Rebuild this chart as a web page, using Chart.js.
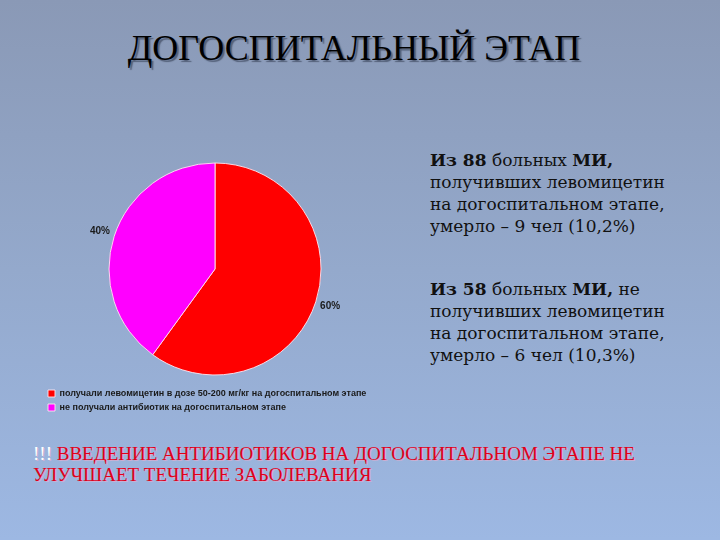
<!DOCTYPE html>
<html lang="ru">
<head>
<meta charset="utf-8">
<title>Догоспитальный этап</title>
<script src="https://cdn.jsdelivr.net/npm/chart.js@4/dist/chart.umd.min.js"></script>
<style>
    html, body {
        margin: 0;
        padding: 0;
    }
    body {
        width: 720px;
        height: 540px;
        position: relative;
        overflow: hidden;
        background: linear-gradient(to bottom, #8a99b6 0%, #94a9cc 50%, #9db8e3 100%);
        font-family: "Liberation Serif", serif;
    }
    .title {
        position: absolute;
        left: 0;
        width: 708px;
        top: 27px;
        text-align: center;
        font-size: 36px;
        color: #000;
        text-shadow: 2px 2px 1px rgba(40, 50, 70, 0.55);
    }
    .chart-box {
        position: absolute;
        left: 43px;
        top: 154px;
        width: 344px;
        height: 268px;
    }
    .note {
        position: absolute;
        left: 430px;
        font-family: "DejaVu Serif", serif;
        font-size: 17px;
        line-height: 22px;
        color: #111;
    }
    .note b { font-weight: bold; }
    .conclusion {
        position: absolute;
        left: 33px;
        top: 443px;
        font-size: 19px;
        line-height: 21px;
        color: #e0001a;
        text-shadow: 1px 1px 0 rgba(255, 170, 200, 0.5);
    }
    .conclusion span { color: #fff; }
</style>
</head>
<body>
<div class="title">ДОГОСПИТАЛЬНЫЙ ЭТАП</div>

<div class="chart-box"><canvas id="pie"></canvas></div>

<div class="note" style="top:149px">
    <b>Из 88</b> больных <b>МИ,</b><br>
    получивших левомицетин<br>
    на догоспитальном этапе,<br>
    умерло – 9 чел (10,2%)
</div>
<div class="note" style="top:278px">
    <b>Из 58</b> больных <b>МИ,</b> не<br>
    получивших левомицетин<br>
    на догоспитальном этапе,<br>
    умерло – 6 чел (10,3%)
</div>

<div class="conclusion"><span>!!!</span> ВВЕДЕНИЕ АНТИБИОТИКОВ НА ДОГОСПИТАЛЬНОМ ЭТАПЕ НЕ<br>УЛУЧШАЕТ ТЕЧЕНИЕ ЗАБОЛЕВАНИЯ</div>

<script>
// данные диаграммы
const categories = [
    'получали левомицетин в дозе 50-200 мг/кг на догоспитальном этапе',
    'не получали антибиотик на догоспитальном этапе'
];
const shares = [60, 40];
const sliceColors = ['#ff0000', '#ff00ff'];

// подписи процентов снаружи круга
const outsideLabels = {
    id: 'outsideLabels',
    afterDatasetsDraw(chart) {
        const ctx = chart.ctx;
        const meta = chart.getDatasetMeta(0);
        ctx.save();
        ctx.font = 'bold 10px "Liberation Sans", Arial, sans-serif';
        ctx.fillStyle = '#1a1a1a';
        ctx.textAlign = 'center';
        ctx.textBaseline = 'middle';
        meta.data.forEach((arc, i) => {
            const mid = (arc.startAngle + arc.endAngle) / 2;
            const r = arc.outerRadius + 15;
            const x = arc.x + Math.cos(mid) * r;
            const y = arc.y + Math.sin(mid) * r;
            ctx.fillText(shares[i] + '%', x, y);
        });
        ctx.restore();
    }
};

new Chart(document.getElementById('pie'), {
    type: 'pie',
    data: {
        labels: categories,
        datasets: [{
            data: shares,
            backgroundColor: sliceColors,
            borderColor: 'rgba(255, 230, 240, 0.9)',
            borderWidth: 1,
            radius: 106
        }]
    },
    options: {
        responsive: true,
        maintainAspectRatio: false,
        animation: false,
        plugins: {
            tooltip: { enabled: false },
            legend: {
                position: 'bottom',
                align: 'start',
                labels: {
                    boxWidth: 7,
                    boxHeight: 7,
                    padding: 5,
                    color: '#1a1a1a',
                    font: { family: '"Liberation Sans", Arial, sans-serif', size: 9, weight: 'bold' }
                }
            }
        }
    },
    plugins: [outsideLabels]
});
</script>
</body>
</html>
